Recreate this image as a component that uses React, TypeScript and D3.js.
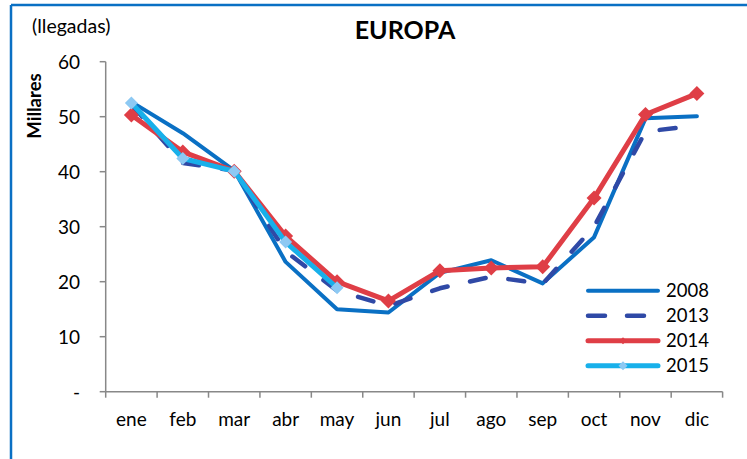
import React from "react";
import * as d3 from "d3";

const months = ["ene", "feb", "mar", "abr", "may", "jun", "jul", "ago", "sep", "oct", "nov", "dic"];
const yTicks = [0, 10, 20, 30, 40, 50, 60];
const s2008 = [52.7, 47.0, 40.2, 23.6, 15.0, 14.4, 21.6, 23.9, 19.7, 28.1, 49.7, 50.1];
const s2013 = [52.2, 41.6, 40.2, 25.5, 18.4, 15.6, 18.8, 20.9, 19.6, 30.0, 47.3, 48.4];
const s2014 = [50.3, 43.6, 40.1, 28.3, 20.0, 16.5, 22.0, 22.5, 22.7, 35.2, 50.4, 54.2];
const s2015: (number | null)[] = [52.5, 42.4, 40.1, 27.2, 18.9, null, null, null, null, null, null, null];
const seriesNames = ["2008", "2013", "2014", "2015"];

const FONT = "Lato, 'Open Sans', sans-serif";

export default function App() {
  const W = 747, H = 459;
  const x0 = 105.7, x1 = 722.6;
  const x = d3.scaleBand<string>().domain(months).range([x0, x1]);
  const y = d3.scaleLinear().domain([0, 60]).range([391.7, 61.7]);
  const cx = (m: string) => (x(m) as number) + x.bandwidth() / 2;

  const line = d3
    .line<number | null>()
    .defined((d) => d !== null)
    .x((_, i) => cx(months[i]))
    .y((d) => y(d as number));

  const diamond = (px: number, py: number, r: number) =>
    `M${px},${py - r}L${px + r},${py}L${px},${py + r}L${px - r},${py}Z`;

  const legendY = [290.7, 315.7, 340.7, 365.7];
  const lx0 = 588, lx1 = 658;

  return (
    <svg width={W} height={H} style={{ position: "absolute", left: 0, top: 0, background: "#fff" }}>
      {/* frame */}
      <line x1={11} y1={5} x2={W} y2={5} stroke="#0A70C4" strokeWidth={2.5} />
      <line x1={11} y1={5} x2={11} y2={H} stroke="#0A70C4" strokeWidth={2.5} />

      {/* title & labels */}
      <text x={405} y={39} textAnchor="middle" fontFamily={FONT} fontWeight="bold" fontSize={25} fill="#000">EUROPA</text>
      <text x={32} y={33} fontFamily={FONT} fontSize={19.5} fill="#000">(llegadas)</text>
      <text transform="translate(41,106) rotate(-90)" textAnchor="middle" fontFamily={FONT} fontWeight="bold" fontSize={18.5} fill="#000">Millares</text>

      {/* axes */}
      <line x1={x0} y1={y(60)} x2={x0} y2={y(0)} stroke="#888" strokeWidth={1.5} />
      <line x1={x0} y1={y(0)} x2={x1} y2={y(0)} stroke="#888" strokeWidth={1.5} />
      {yTicks.map((t) => (
        <g key={t}>
          <line x1={x0 - 6} x2={x0} y1={y(t)} y2={y(t)} stroke="#888" strokeWidth={1.5} />
          <text x={80} y={y(t)} dy="0.36em" textAnchor="end" fontFamily={FONT} fontSize={19} fill="#000">
            {t === 0 ? "-" : t}
          </text>
        </g>
      ))}
      {months.map((m, i) => (
        <line key={"t" + m} x1={x0 + i * x.step()} x2={x0 + i * x.step()} y1={y(0)} y2={y(0) + 6} stroke="#888" strokeWidth={1.5} />
      ))}
      <line x1={x1} x2={x1} y1={y(0)} y2={y(0) + 6} stroke="#888" strokeWidth={1.5} />
      {months.map((m) => (
        <text key={m} x={cx(m)} y={426} textAnchor="middle" fontFamily={FONT} fontSize={19} fill="#000">{m}</text>
      ))}

      {/* series */}
      <path d={line(s2008) as string} fill="none" stroke="#0A70C4" strokeWidth={4} strokeLinejoin="round" strokeLinecap="round" />
      <path d={line(s2013) as string} fill="none" stroke="#2F49A6" strokeWidth={4.5} strokeDasharray="16 23" strokeLinejoin="round" strokeLinecap="round" />
      <path d={line(s2014) as string} fill="none" stroke="#DF3E46" strokeWidth={5} strokeLinejoin="round" strokeLinecap="round" />
      {s2014.map((v, i) => (
        <path key={"m14" + i} d={diamond(cx(months[i]), y(v), 7.5)} fill="#DF3E46" />
      ))}
      <path d={line(s2015) as string} fill="none" stroke="#18B0EA" strokeWidth={5} strokeLinejoin="round" strokeLinecap="round" />
      {s2015.map((v, i) =>
        v === null ? null : <path key={"m15" + i} d={diamond(cx(months[i]), y(v), 6.5)} fill="#8DC9F3" />
      )}

      {/* legend */}
      <line x1={lx0} x2={lx1} y1={legendY[0]} y2={legendY[0]} stroke="#0A70C4" strokeWidth={4} strokeLinecap="round" />
      <line x1={lx0} x2={lx1 - 12} y1={legendY[1]} y2={legendY[1]} stroke="#2F49A6" strokeWidth={4.5} strokeDasharray="17 22" strokeLinecap="round" />
      <line x1={lx0} x2={lx1} y1={legendY[2]} y2={legendY[2]} stroke="#DF3E46" strokeWidth={5} strokeLinecap="round" />
      <path d={diamond((lx0 + lx1) / 2, legendY[2], 3.5)} fill="#DF3E46" />
      <line x1={lx0} x2={lx1} y1={legendY[3]} y2={legendY[3]} stroke="#18B0EA" strokeWidth={5} strokeLinecap="round" />
      <path d={diamond((lx0 + lx1) / 2, legendY[3], 4.5)} fill="#8DC9F3" />
      {seriesNames.map((n, i) => (
        <text key={n} x={666} y={legendY[i]} dy="0.36em" fontFamily={FONT} fontSize={18.5} fill="#000">{n}</text>
      ))}
    </svg>
  );
}
